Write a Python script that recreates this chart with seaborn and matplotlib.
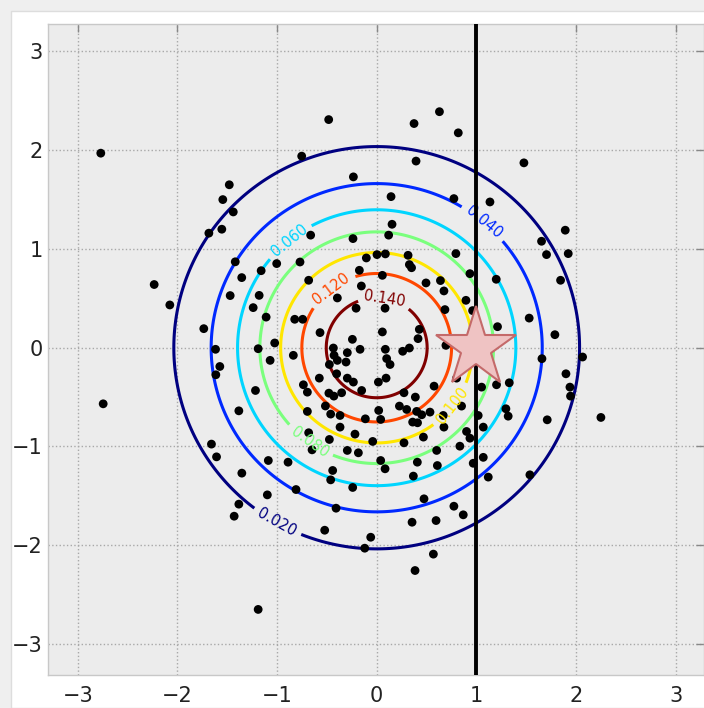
import numpy as np
import pandas as pd
import matplotlib
matplotlib.use("Agg")
import matplotlib.pyplot as plt
from matplotlib.patches import Rectangle
import seaborn as sns

# ---- data ----
pts_x = [-2.77, -1.48, -1.545, -1.44, -1.685, -1.555, -1.42, -1.355, -1.16, -2.234, -2.077, -1.471, -1.18, -1.24, -1.736, -1.618, -1.575, -1.19,
         -0.482, 0.375, 0.63, -0.753, 0.395, -0.234, 0.144, 0.154, -0.663, -0.238, 0.12, -0.104, 0.003, 0.087, 0.315, 0.328, 0.35, -1.004, -0.77,
         -0.174, -0.683, 0.495, 0.64, -0.154, 0.057, -0.395, 0.084, -0.207, -0.823, -0.743, -1.11, -0.569, -0.244, 0.057, 0.428, 0.415, -1.024,
         -0.435, -0.428, -0.295, -0.167, 0.087, 0.328, 0.261, -0.837, -0.395, -0.308, -1.07, 0.1, 0.134, -0.475,
         0.819, 1.478, 0.775, 1.137, 1.893, 1.655, 1.705, 1.923, 0.795, 0.936, 1.2, 1.846, 0.675, 0.896, 0.685, 0.963, 1.531, 1.213, 1.789, 0.695,
         2.067, 1.659,
         -2.746, -1.615, -1.217, -1.384, -1.659, -1.608, -1.354, -1.384, -1.431, -1.19,
         -0.576, -0.736, -0.696, -0.402, -0.295, -0.234, 0.017, 0.094, -0.48, -0.43, -0.352, -0.151, -0.515, -0.462, -0.696, -0.368, -0.114, 0.02,
         0.04, 0.274, 0.388, 0.228, 0.301, 0.401, 0.452, 0.535, 0.576, 0.361, 0.41, -0.368, -0.683, -0.218, 0.469, -0.475, -0.04, 0.274, -0.649,
         -0.295, -0.184, -1.088, -0.89, 0.04, 0.084, 0.408, 0.602, 0.609, -0.442, -0.462, 0.368, -0.241, -1.098, -0.81, 0.475, -0.408, 0.355,
         0.596, -0.522, -0.06, -0.12, 0.569, 0.385,
         0.802, 1.053, 1.203, 1.331, 1.9, 1.94, 1.946, 0.852, 0.668, 0.675, 1.019, 1.297, 1.32, 1.07, 0.902, 0.936, 1.712, 2.251, 0.835, 1.07,
         0.969, 1.12, 1.538, 0.775, 0.869]
pts_y = [1.97, 1.65, 1.50, 1.375, 1.16, 1.20, 0.87, 0.71, 0.78, 0.64, 0.433, 0.528, 0.53, 0.406, 0.193, -0.016, -0.19, -0.01,
         2.31, 2.27, 2.39, 1.94, 1.89, 1.73, 1.53, 1.25, 1.14, 1.105, 1.14, 0.909, 0.943, 0.95, 0.936, 0.842, 0.81, 0.852, 0.868,
         0.784, 0.683, 0.656, 0.68, 0.625, 0.733, 0.504, 0.40, 0.40, 0.288, 0.288, 0.31, 0.153, 0.085, 0.16, 0.186, 0.092, 0.048,
         -0.003, -0.077, -0.05, -0.016, -0.016, -0.003, -0.036, -0.077, -0.128, -0.145, -0.128, -0.11, -0.17, -0.17,
         2.176, 1.872, 1.51, 1.476, 1.19, 1.078, 0.943, 0.953, 0.953, 0.75, 0.693, 0.683, 0.575, 0.48, 0.386, 0.376, 0.30, 0.213, 0.132, 0.024,
         -0.094, -0.111,
         -0.568, -0.274, -0.433, -0.639, -0.976, -1.105, -1.27, -1.584, -1.706, -2.65,
         -0.308, -0.375, -0.45, -0.264, -0.308, -0.348, -0.348, -0.308, -0.46, -0.49, -0.456, -0.433, -0.59, -0.672, -0.645, -0.686, -0.72, -0.635,
         -0.726, -0.456, -0.5, -0.591, -0.625, -0.645, -0.679, -0.652, -0.389, -0.753, -0.76, -0.804, -0.861, -0.875, -0.905, -0.929, -0.949, -0.963, -1.034,
         -1.04, -1.064, -1.142, -1.159, -1.142, -1.226, -1.159, -1.04, -1.193, -1.243, -1.338, -1.30, -1.415, -1.49, -1.436, -1.53, -1.625, -1.767,
         -1.75, -1.848, -1.919, -2.03, -2.09, -2.256,
         -0.308, -0.399, -0.375, -0.355, -0.264, -0.399, -0.49, -0.591, -0.686, -0.804, -0.686, -0.618, -0.693, -0.804, -0.848, -0.916, -0.73, -0.706, -0.997, -1.11,
         -1.17, -1.31, -1.287, -1.605, -1.692]

levels = [0.020, 0.040, 0.060, 0.080, 0.100, 0.120, 0.140]
mean = [0.0, 0.0]          # standard bivariate normal
sigma = 1.0
star_point = (1.0, 0.0)
vline_x = 1.0
ticks = [-3, -2, -1, 0, 1, 2, 3]
label_positions = [(-1.0, -1.77), (1.09, 1.29), (-0.89, 1.10), (-0.67, -0.95),
                   (0.75, -0.58), (-0.47, 0.62), (0.08, 0.51)]

df = pd.DataFrame({"x": pts_x, "y": pts_y})

sns.set_style("whitegrid")
plt.rcParams["font.family"] = ["DejaVu Sans"]

fig = plt.figure(figsize=(7.04, 7.08), dpi=100)
fig.patch.set_facecolor("#efefef")
bg = Rectangle((11 / 704, 0), 1, 1 - 11 / 708, transform=fig.transFigure,
               facecolor="white", edgecolor="#dddddd", lw=1, zorder=-10)
fig.patches.append(bg)

ax = fig.add_axes([48 / 704, 33 / 708, 656 / 704, 651 / 708])
ax.set_zorder(1)
ax.set_facecolor("#ececec")

# density contours
g = np.linspace(-3.4, 3.4, 400)
X, Y = np.meshgrid(g, g)
Z = np.exp(-((X - mean[0]) ** 2 + (Y - mean[1]) ** 2) / (2 * sigma ** 2)) / (2 * np.pi * sigma ** 2)
cs = ax.contour(X, Y, Z, levels=levels, cmap="jet", linewidths=2.2, zorder=3)
ax.clabel(cs, inline=True, fontsize=10.5, fmt="%.3f", manual=label_positions)

sns.scatterplot(data=df, x="x", y="y", ax=ax, color="black", s=40, edgecolor="none",
                linewidth=0, zorder=4, legend=False)

ax.axvline(vline_x, color="black", lw=2.8, zorder=5)
ax.plot([star_point[0]], [star_point[1]], marker="*", ms=60, markerfacecolor="#efc3c3",
        markeredgecolor="#c46a6a", markeredgewidth=1.5, alpha=1.0, zorder=6, linestyle="none")

ax.set_xlim(-3.3, 3.286)
ax.set_ylim(-3.314, 3.278)
ax.set_xticks(ticks)
ax.set_yticks(ticks)
ax.set_xlabel("")
ax.set_ylabel("")
ax.grid(True, linestyle=":", color="#a8a8a8", lw=1.0)
ax.set_axisbelow(True)
for sp in ax.spines.values():
    sp.set_color("#c8c8c8")
    sp.set_linewidth(1.0)
ax.tick_params(direction="in", top=True, right=True, length=6, width=1, color="#888888",
               labelcolor="#222222", labelsize=15)
ax.tick_params(axis="x", pad=8)
ax.tick_params(axis="y", pad=4)

fig.savefig("out.png", dpi=100, facecolor=fig.get_facecolor())
